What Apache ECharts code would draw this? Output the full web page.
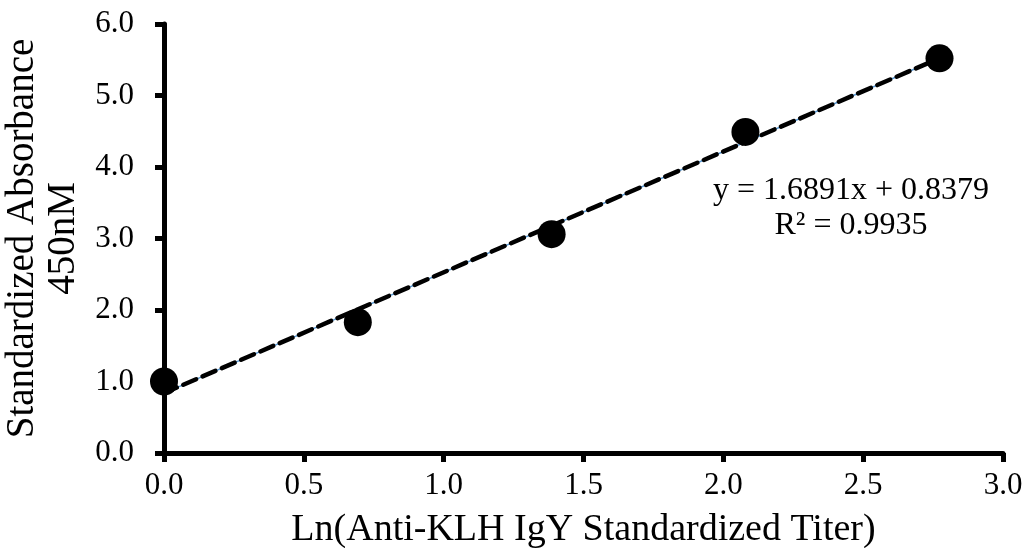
<!DOCTYPE html>
<html>
<head>
<meta charset="utf-8">
<script src="https://cdn.jsdelivr.net/npm/echarts@6/dist/echarts.min.js"></script>
<style>
  html, body { margin: 0; padding: 0; background: #fff; }
  #chart { width: 1027px; height: 548px; }
</style>
</head>
<body>
<div id="chart"></div>
<script>
// data
var xValues = [0, 0.693, 1.386, 2.079, 2.773];
var yValues = [1.0, 1.83, 3.06, 4.49, 5.52];
var xTicks = ['0.0', '0.5', '1.0', '1.5', '2.0', '2.5', '3.0'];
var yTicks = ['0.0', '1.0', '2.0', '3.0', '4.0', '5.0', '6.0'];
var slope = 1.6891;
var intercept = 0.8379;
var eqLines = ['y = 1.6891x + 0.8379', 'R\u00b2 = 0.9935'];

var points = xValues.map(function (x, i) { return [x, yValues[i]]; });
var xEnd = xValues[xValues.length - 1];
var trend = [[0, intercept], [xEnd, intercept + slope * xEnd]];

var font = '"Liberation Serif", "Times New Roman", serif';

var myChart = echarts.init(document.getElementById('chart'));
var option = {
    animation: false,
    textStyle: { fontFamily: font },
    grid: { left: 164, right: 24, top: 24, bottom: 95, containLabel: false, outerBoundsMode: 'none' },
    xAxis: {
        type: 'value',
        min: 0, max: 3, interval: 0.5,
        name: 'Ln(Anti-KLH IgY Standardized Titer)',
        nameLocation: 'middle',
        nameGap: 58,
        nameTextStyle: { fontSize: 38, color: '#000', fontFamily: font },
        axisLine: { lineStyle: { color: '#000', width: 5 } },
        axisTick: { show: true, length: 9, lineStyle: { color: '#000', width: 5 } },
        axisLabel: {
            fontSize: 31, color: '#000', fontFamily: font, margin: 17,
            formatter: function (v) { return xTicks[Math.round(v / 0.5)]; }
        },
        splitLine: { show: false }
    },
    yAxis: {
        type: 'value',
        min: 0, max: 6, interval: 1,
        name: 'Standardized Absorbance\n450nM',
        nameLocation: 'middle',
        nameGap: 76,
        nameRotate: 90,
        nameTextStyle: { fontSize: 39, color: '#000', fontFamily: font, lineHeight: 41 },
        axisLine: { lineStyle: { color: '#000', width: 5 } },
        axisTick: { show: true, length: 9, lineStyle: { color: '#000', width: 5 } },
        axisLabel: {
            fontSize: 31, color: '#000', fontFamily: font, margin: 30,
            formatter: function (v) { return yTicks[Math.round(v)]; }
        },
        splitLine: { show: false }
    },
    series: [
        {
            type: 'line',
            data: trend,
            symbol: 'none',
            lineStyle: { color: '#5b9bd5', width: 1.5 },
            z: 2
        },
        {
            type: 'line',
            data: trend,
            symbol: 'none',
            lineStyle: { color: '#000', width: 4.5, type: [14, 7], cap: 'round' },
            z: 3
        },
        {
            type: 'scatter',
            data: points,
            symbol: 'circle',
            symbolSize: 28,
            itemStyle: { color: '#000', opacity: 1 },
            z: 4
        }
    ],
    graphic: [
        {
            type: 'text',
            x: 851, y: 208,
            z: 10,
            style: {
                text: eqLines.join('\n'),
                font: '32px ' + font,
                fill: '#000',
                align: 'center',
                verticalAlign: 'middle',
                lineHeight: 35
            }
        }
    ]
};
myChart.setOption(option);
</script>
</body>
</html>
